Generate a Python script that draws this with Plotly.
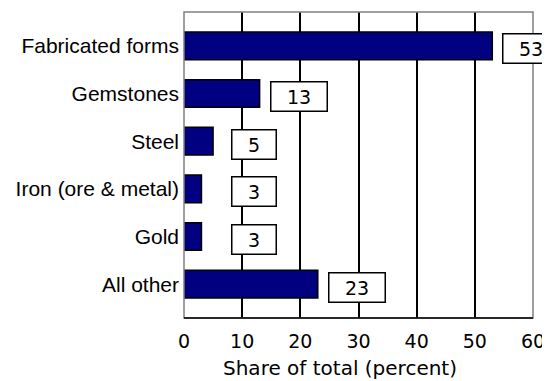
import plotly.graph_objects as go

categories = ["Fabricated forms", "Gemstones", "Steel", "Iron (ore & metal)", "Gold", "All other"]
values = [53, 13, 5, 3, 3, 23]
x_ticks = [0, 10, 20, 30, 40, 50, 60]
x_title = "Share of total (percent)"

fig = go.Figure()
fig.add_trace(go.Bar(
    y=categories, x=values, orientation="h",
    marker=dict(color="#000080", line=dict(color="black", width=1.5)),
    width=0.58, hoverinfo="skip",
))

for c, v in zip(categories, values):
    s = str(v)
    fig.add_annotation(
        x=max(v, 6.3), y=c, xref="x", yref="y",
        text=s, showarrow=False, xanchor="left", yanchor="middle",
        xshift=10, yshift=-3,
        font=dict(family="DejaVu Sans", size=19, color="black"),
        bgcolor="white", bordercolor="black", borderwidth=1.5,
        borderpad=3, width=49 if len(s) > 1 else 37,
        height=22,
    )

fig.add_annotation(
    x=0.447, y=0, xref="paper", yref="paper", text=x_title, showarrow=False,
    xanchor="center", yanchor="middle", yshift=-50,
    font=dict(family="DejaVu Sans", size=20, color="black"),
)

# page body has an 8px default margin, so the figure is 8px smaller and margins shifted
fig.update_layout(
    width=542, height=373,
    margin=dict(l=176, r=17, t=4, b=63, autoexpand=False),
    paper_bgcolor="white", plot_bgcolor="white",
    showlegend=False,
    xaxis=dict(
        range=[0, 60], tickvals=x_ticks, showgrid=True, gridcolor="black", gridwidth=1.5,
        zeroline=False, showline=False, ticks="", ticklen=0, automargin=False,
        ticklabelstandoff=10,
        tickfont=dict(family="DejaVu Sans", size=19, color="black"),
    ),
    yaxis=dict(
        categoryorder="array", categoryarray=categories, autorange=False,
        range=[5.71, -0.71], automargin=False, ticklabelstandoff=4,
        showgrid=False, zeroline=False, showline=False, ticks="", ticklen=0,
        tickfont=dict(family="Liberation Sans", size=21, color="black"),
    ),
)

# plot frame
fig.add_shape(type="rect", xref="paper", yref="paper", x0=0, x1=1, y0=0, y1=1,
              line=dict(color="#808080", width=1.5), layer="above")
fig.add_shape(type="line", xref="paper", yref="paper", x0=0, x1=1, y0=0, y1=0,
              line=dict(color="black", width=1.5), layer="above")

fig.write_html("out.html")
